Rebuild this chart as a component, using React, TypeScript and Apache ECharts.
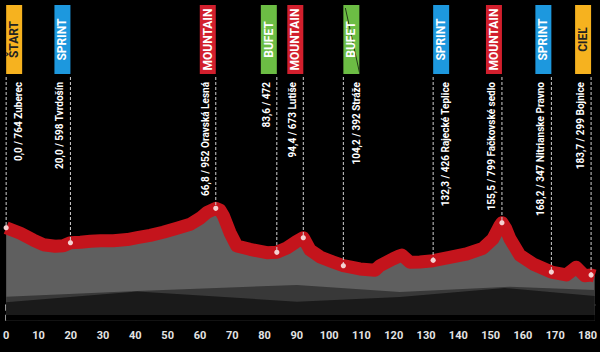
import React, { useEffect, useRef } from 'react';
import * as echarts from 'echarts';

// Stage profile (km along the axis, altitude in m) as drawn
const profileKm = [0, 4.4, 8.4, 11.5, 15.2, 17.7, 19.9, 23.0, 26.1, 29.2, 33.2, 37.5, 40.6, 44.6, 48.6, 52.9, 57.0, 60.1, 62.2, 64.9, 66.2, 67.3, 69.3, 71.4, 75.5, 80.7, 83.8, 86.9, 89.7, 92.0, 94.1, 97.2, 101.2, 104.4, 109.5, 114.2, 115.7, 119.7, 121.9, 122.5, 125.0, 128.1, 132.2, 137.3, 142.5, 147.6, 150.7, 152.8, 153.5, 154.6, 155.9, 159.0, 163.1, 168.8, 173.4, 176.5, 179.1, 181.1, 182.2];
const profileAlt = [756, 701, 635, 589, 574, 579, 609, 613, 623, 629, 628, 640, 658, 681, 711, 750, 789, 850, 907, 946, 930, 871, 707, 577, 544, 511, 515, 557, 616, 658, 537, 469, 420, 383, 351, 338, 383, 449, 481, 488, 417, 420, 432, 466, 498, 554, 645, 773, 805, 753, 652, 488, 400, 321, 292, 368, 285, 292, 282];

// Background terrain layers
const groundKm = [0, 40.6, 90, 121.9, 155.9, 182.2];
const groundAlt = [79, 135, 194, 125, 177, 145];
const shadowKm = [0, 40.6, 90, 121.9, 154.3, 182.2];
const shadowAlt = [24, 130, 30, 76, 164, 86];
const baseKm = [0, 182.2];
const baseAlt = [-100, -100];

// Markers (position on the axis as drawn, and altitude as drawn)
const markerKm = [0, 19.9, 64.9, 83.8, 92, 104.4, 132.2, 153.5, 168.8, 181.1];
const markerAlt = [756, 609, 946, 515, 658, 383, 436, 805, 321, 292];
const flagTypes = ['\u0160TART', 'SPRINT', 'MOUNTAIN', 'BUFET', 'MOUNTAIN', 'BUFET', 'SPRINT', 'MOUNTAIN', 'SPRINT', 'CIE\u013D'];
const labelKm = ['0,0', '20,0', '66,8', '83,6', '94,4', '104,2', '132,3', '155,5', '168,2', '183,7'];
const labelAlt = [764, 598, 952, 472, 673, 392, 426, 799, 347, 299];
const placeNames = ['Zuberec', 'Tvrdošín', 'Oravská Lesná', '', 'Lutiše', 'Stráže', 'Rajecké Teplice', 'Fačkovské sedlo', 'Nitrianske Pravno', 'Bojnice'];
const cancelled = [false, false, false, false, false, true, false, false, false, false];

const tickValues = [0, 10, 20, 30, 40, 50, 60, 70, 80, 90, 100, 110, 120, 130, 140, 150, 160, 170, 180];

// Layout / style
const labelOnRight = [true, false, false, false, false, true, true, false, false, false];
const flagColors = ['#f6b21f', '#1d98de', '#d21f2d', '#6cbd44', '#d21f2d', '#6cbd44', '#1d98de', '#d21f2d', '#1d98de', '#f6b21f'];
const flagTextColors = ['#222222', '#ffffff', '#ffffff', '#ffffff', '#ffffff', '#ffffff', '#ffffff', '#ffffff', '#ffffff', '#222222'];

const pairs = (xs: number[], ys: number[]) => xs.map((x, i) => [x, ys[i]]);

export default function App() {
  const ref = useRef<HTMLDivElement>(null);
  useEffect(() => {
    document.body.style.margin = '0';
    document.body.style.background = '#000';
    const chart = echarts.init(ref.current!, undefined, { renderer: 'svg' });
    const flat = { width: 0, opacity: 0 };
    const option: any = {
      animation: false,
      backgroundColor: '#000',
      grid: { left: 5.7, right: 4.9, top: 202.84, bottom: 31.24 },
      xAxis: [
        {
          type: 'value', min: 0, max: 182.2, interval: 10, position: 'bottom',
          axisLine: { show: true, lineStyle: { color: '#c8c8c8', width: 1.5 } },
          axisTick: { show: true, inside: false, length: 6, customValues: tickValues, lineStyle: { color: '#c8c8c8', width: 1.5 } },
          axisLabel: { show: true, customValues: tickValues, margin: 9, color: '#e4e4e4', fontSize: 11, fontWeight: 'bold', fontFamily: 'Roboto' },
          splitLine: { show: false },
        },
        {
          type: 'value', min: 0, max: 182.2, interval: 10, position: 'bottom',
          axisLine: { show: false },
          axisTick: { show: true, inside: true, length: 6, customValues: tickValues, lineStyle: { color: '#c8c8c8', width: 1.5 } },
          axisLabel: { show: false },
          splitLine: { show: false },
        },
      ],
      yAxis: { type: 'value', min: -157, max: 1000, show: false, splitLine: { show: false } },
      series: [
        {
          type: 'line', name: 'profile', data: pairs(profileKm, profileAlt), showSymbol: false, z: 2,
          lineStyle: { color: '#c4141c', width: 13, join: 'round' },
          areaStyle: { color: '#5f5f5f', origin: 'start', opacity: 1 },
        },
        {
          type: 'line', data: pairs(groundKm, groundAlt), showSymbol: false, z: 3,
          lineStyle: flat, areaStyle: { color: '#383838', origin: 'start', opacity: 1 },
        },
        {
          type: 'line', data: pairs(shadowKm, shadowAlt), showSymbol: false, z: 4,
          lineStyle: flat, areaStyle: { color: '#1a1a1a', origin: 'start', opacity: 1 },
        },
        {
          type: 'line', data: pairs(baseKm, baseAlt), showSymbol: false, z: 5,
          lineStyle: flat, areaStyle: { color: '#000000', origin: 'start', opacity: 1 },
        },
        {
          type: 'custom', z: 10, clip: false,
          data: markerKm.map((k, i) => [k, markerAlt[i], i]),
          renderItem: (params: any, api: any) => {
            const i = api.value(2);
            const pt = api.coord([api.value(0), api.value(1)]);
            const x = pt[0];
            const right = labelOnRight[i];
            const bx = right ? x : x - 16;
            const label = `${labelKm[i]} / ${labelAlt[i]}${placeNames[i] ? ' ' + placeNames[i] : ''}`;
            const children: any[] = [
              { type: 'line', shape: { x1: x, y1: 77, x2: x, y2: pt[1] }, style: { stroke: '#d0d0d0', lineWidth: 1, lineDash: [3, 2] } },
              {
                type: 'rect', shape: { x: bx, y: 5, width: 16, height: 69 }, style: { fill: flagColors[i] },
                textContent: {
                  style: { text: flagTypes[i], fill: flagTextColors[i], fontSize: 12, fontWeight: 'bold', fontFamily: 'Roboto' },
                },
                textConfig: { position: 'inside', rotation: Math.PI / 2 },
              },
              {
                type: 'text', x: right ? x + 12.8 : x - 10.5, y: 82, rotation: Math.PI / 2,
                style: { text: label, fill: '#ffffff', fontSize: 10, fontWeight: 'bold', fontFamily: 'Roboto', align: 'right', verticalAlign: 'middle' },
              },
              { type: 'circle', shape: { cx: x, cy: pt[1], r: 2.6 }, style: { fill: '#f4d2d2' } },
            ];
            if (cancelled[i]) {
              children.push({ type: 'line', shape: { x1: bx + 2, y1: 8, x2: bx + 16, y2: 72 }, style: { stroke: '#233a18', lineWidth: 1 } });
            }
            return { type: 'group', children };
          },
        },
      ],
    };
    chart.setOption(option);
    return () => chart.dispose();
  }, []);
  return <div ref={ref} style={{ width: 600, height: 352 }} />;
}
